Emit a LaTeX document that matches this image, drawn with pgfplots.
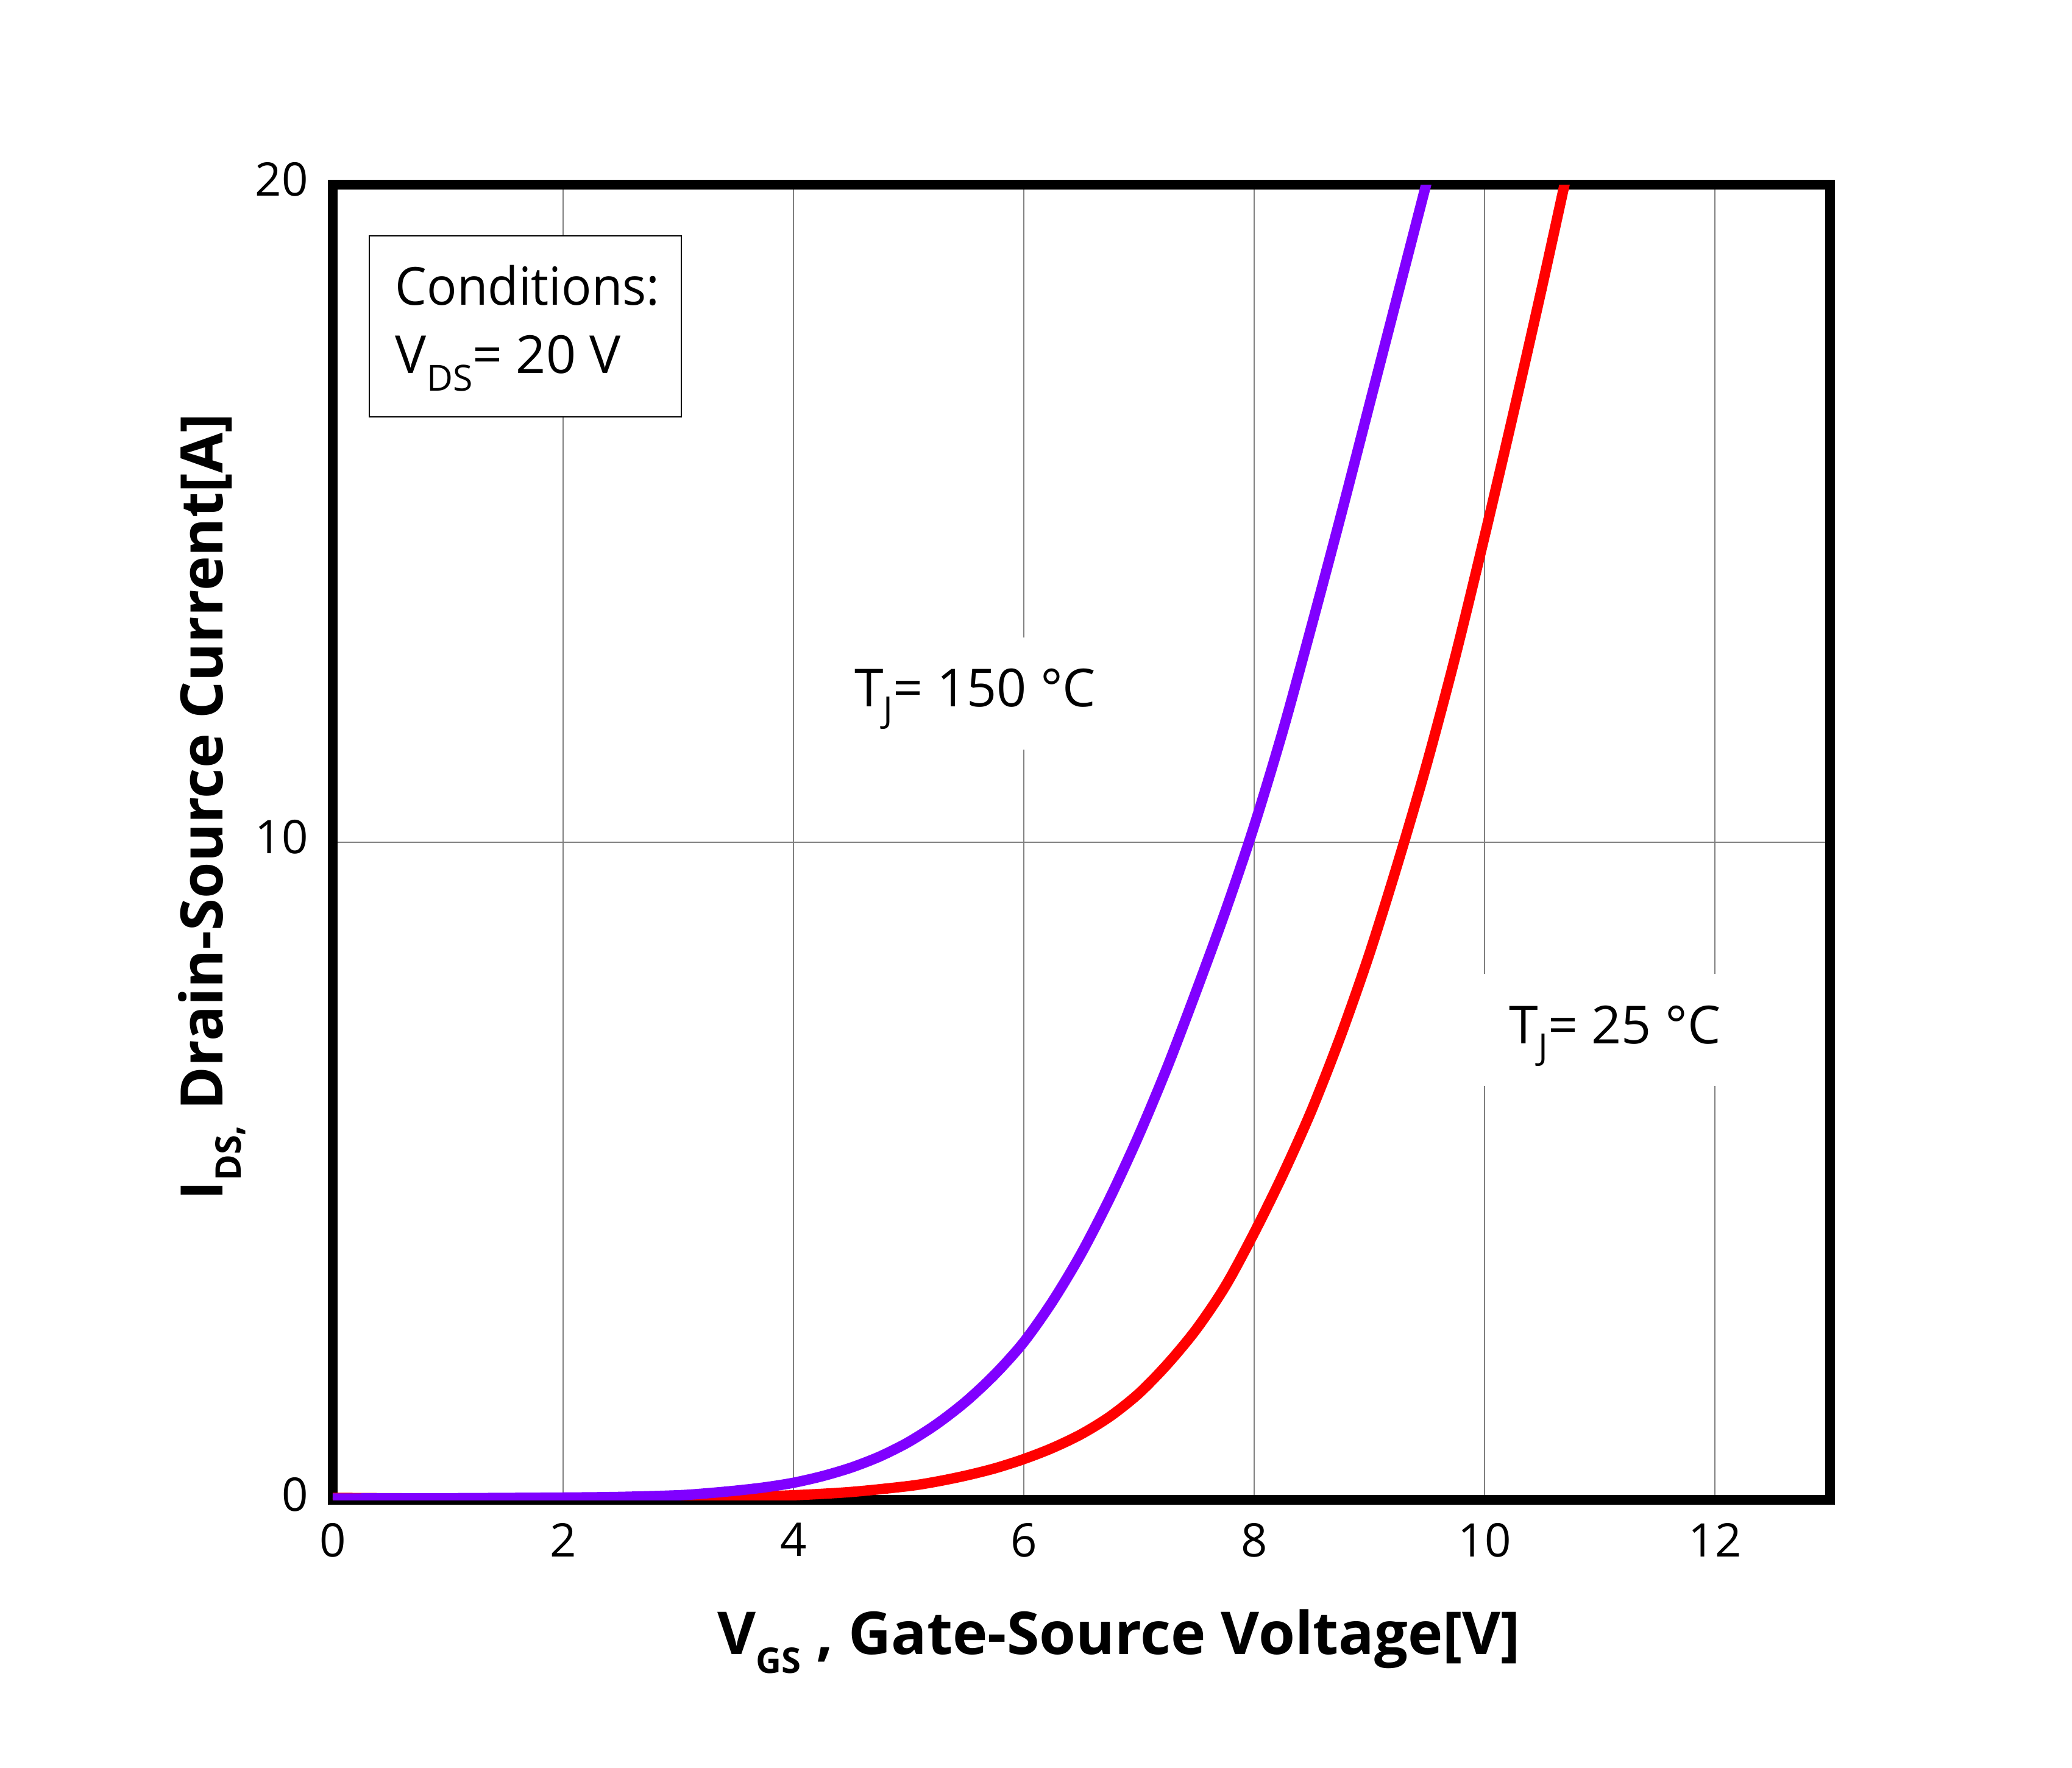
\documentclass[border=0pt]{standalone}
\usepackage{pgfplots}
\pgfplotsset{compat=1.18}
\usepackage{fontspec}
\setmainfont{Open Sans}

\definecolor{hotcurve}{RGB}{128,0,255}
\definecolor{coldcurve}{RGB}{255,0,0}
\definecolor{gridgray}{RGB}{128,128,128}

% lowered subscript: #1 size, #2 drop, #3 text
\newcommand{\lsub}[3]{\raisebox{-#2}{\fontsize{#1}{#1}\selectfont #3}}

\begin{document}
\begin{tikzpicture}
\begin{axis}[
  at={(0,0)}, anchor=south west,
  scale only axis, width=245.7pt, height=215.8pt,
  xmin=0, xmax=13, ymin=0, ymax=20,
  xtick={0,2,4,6,8,10,12}, ytick={0,10,20},
  major tick length=0pt,
  grid=major,
  major grid style={draw=gridgray, line width=0.25pt},
  axis line style={line width=1.65pt, black},
  every outer x axis line/.append style={line width=1.65pt},
  every outer y axis line/.append style={line width=1.65pt},
  /pgf/number format/assume math mode=true,
  tick label style={font=\fontsize{7.6}{9}\selectfont},
  xticklabel style={yshift=-0.3pt},
  yticklabel style={xshift=-0.5pt, yshift=0.9pt},
]
% T_J = 25 C
\addplot[coldcurve, line width=1.7pt, smooth] coordinates {
  (0,0.03) (1,0.02) (2,0.02) (3,0.03) (3.5,0.045) (4,0.07) (4.5,0.12)
  (5,0.21) (5.25,0.28) (5.5,0.37) (5.75,0.48) (6,0.62) (6.25,0.79)
  (6.5,1.00) (6.75,1.27) (7,1.62) (7.25,2.07) (7.5,2.60) (7.75,3.25)
  (8,4.06) (8.25,4.95) (8.5,5.93) (8.75,7.05) (9,8.30) (9.25,9.70)
  (9.5,11.20) (9.75,12.85) (10,14.65) (10.25,16.52) (10.5,18.45)
  (10.75,20.45)
};
% T_J = 150 C
\addplot[hotcurve, line width=1.7pt, smooth] coordinates {
  (0,0.02) (1,0.025) (2,0.035) (2.5,0.045) (3,0.07) (3.25,0.10)
  (3.5,0.14) (3.75,0.19) (4,0.26) (4.25,0.36) (4.5,0.49) (4.75,0.66)
  (5,0.88) (5.25,1.16) (5.5,1.50) (5.75,1.91) (6,2.40) (6.25,3.02)
  (6.5,3.75) (6.75,4.60) (7,5.55) (7.25,6.60) (7.5,7.75) (7.75,8.95)
  (8,10.25) (8.25,11.70) (8.5,13.30) (8.75,14.95) (9,16.65)
  (9.25,18.35) (9.5,20.05) (9.75,21.75)
};
% conditions box
\draw[line width=0.2pt, fill=white] (axis cs:0.317,16.47) rectangle (axis cs:3.026,19.22);
\node[anchor=base west, inner sep=0pt, font=\fontsize{8.6}{11}\selectfont]
  at (axis cs:0.534,18.17) {\scalebox{0.955}[1]{Conditions:}};
\node[anchor=base west, inner sep=0pt, font=\fontsize{8.6}{11}\selectfont]
  at (axis cs:0.534,17.13) {V\lsub{5.9pt}{2.9pt}{DS}= 20 V};
% curve labels
\node[anchor=base west, fill=white, inner sep=5pt, text height=6.4pt, text depth=2pt,
      font=\fontsize{8.6}{11}\selectfont]
  at (axis cs:4.256,12.06) {T\lsub{5.9pt}{2.6pt}{J}= 150 °C};
\node[anchor=base west, fill=white, inner sep=5pt, text height=6.4pt, text depth=2pt,
      font=\fontsize{8.6}{11}\selectfont]
  at (axis cs:9.94,6.94) {T\lsub{5.9pt}{2.6pt}{J}= 25 °C};
\end{axis}
% axis titles
\node[anchor=base, font=\bfseries\fontsize{9.7}{11}\selectfont]
  at (129.0pt,-25.3pt) {V\lsub{5.8pt}{3.1pt}{GS} , Gate-Source Voltage[V]};
\node[anchor=base, rotate=90, font=\bfseries\fontsize{9.6}{11}\selectfont]
  at (-18.1pt,113.7pt) {I\lsub{5.8pt}{3.1pt}{DS,} Drain-Source Current[A]};
\pgfresetboundingbox
\path (-54.6pt,-43.9pt) rectangle (285.4pt,246.1pt);
\end{tikzpicture}
\end{document}
